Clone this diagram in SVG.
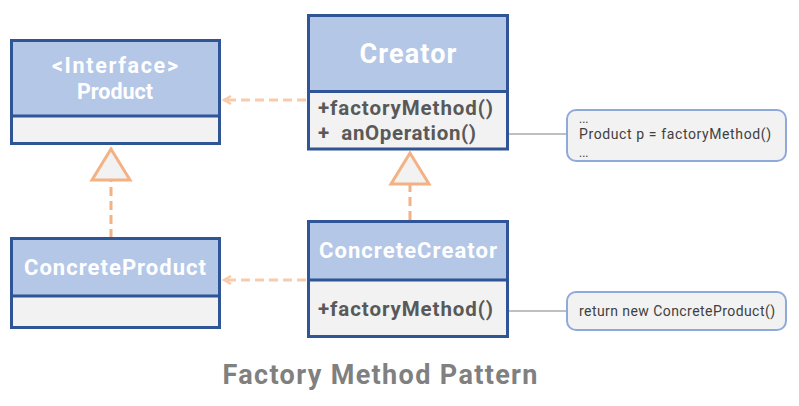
<svg xmlns="http://www.w3.org/2000/svg" width="799" height="406" viewBox="0 0 799 406">
<defs>
<style>
.box{fill:#f2f2f2;stroke:#2f5597;stroke-width:3}
.hdr{fill:#b4c7e7}
.div{stroke:#2f5597;stroke-width:3}
.name{font-family:Roboto,"Noto Sans",sans-serif;font-weight:bold;fill:#ffffff;text-anchor:middle}
.meth{font-family:Roboto,"Noto Sans",sans-serif;font-weight:bold;fill:#595959;font-size:20.5px}
.dash{stroke:#f8cbad;stroke-width:3;stroke-dasharray:9,5;fill:none}
.dash2{stroke:#f4b183;stroke-width:3;stroke-dasharray:9,5;fill:none}
.tri{fill:#f2f2f2;stroke:#f4b183;stroke-width:3}
.note{fill:#f2f2f2;stroke:#8eaadb;stroke-width:2}
.ntext{font-family:Roboto,"Noto Sans",sans-serif;fill:#404040;font-size:14px}
.dots{font-family:Roboto,"Noto Sans",sans-serif;fill:#404040;font-size:12px}
.link{stroke:#bfbfbf;stroke-width:2}
</style>
<marker id="open" markerWidth="12" markerHeight="12" refX="9" refY="6" orient="auto" markerUnits="userSpaceOnUse">
<path d="M2,2 L9,6 L2,10" fill="none" stroke="#f8cbad" stroke-width="2.5"/>
</marker>
</defs>

<g id="connectors">
<line class="dash" x1="306" y1="100" x2="224" y2="100" marker-end="url(#open)"/>
<line class="dash" x1="306" y1="280" x2="224" y2="280" marker-end="url(#open)"/>
<line class="dash2" x1="111" y1="238" x2="111" y2="181"/>
<polygon class="tri" points="111,149 92,180 130,180"/>
<line class="dash2" x1="410" y1="220" x2="410" y2="185"/>
<polygon class="tri" points="410,153 391,184 429,184"/>
<line class="link" x1="481" y1="134" x2="567" y2="134"/>
<line class="link" x1="498" y1="311" x2="567" y2="311"/>
</g>

<g id="product">
<rect class="box" x="11.5" y="40.5" width="208" height="103"/>
<rect class="hdr" x="13" y="42" width="205" height="73"/>
<line class="div" x1="11.5" y1="116" x2="219.5" y2="116"/>
<text class="name" x="115" y="73" font-size="21.5" textLength="126">&lt;Interface&gt;</text>
<text class="name" x="115" y="99" font-size="21.5">Product</text>
</g>

<g id="creator">
<rect class="box" x="308.5" y="15.5" width="199" height="133.5"/>
<rect class="hdr" x="310" y="17" width="196" height="74"/>
<line class="div" x1="308.5" y1="91.5" x2="507.5" y2="91.5"/>
<text class="name" x="408" y="63" font-size="27" textLength="97">Creator</text>
<text class="meth" x="318" y="115" textLength="175">+factoryMethod()</text>
<text class="meth" x="318" y="140" xml:space="preserve" textLength="158">+  anOperation()</text>
</g>

<g id="concreteProduct">
<rect class="box" x="11.5" y="238.5" width="208" height="89"/>
<rect class="hdr" x="13" y="240" width="205" height="55"/>
<line class="div" x1="11.5" y1="296" x2="219.5" y2="296"/>
<text class="name" x="115" y="275" font-size="22" textLength="182">ConcreteProduct</text>
</g>

<g id="concreteCreator">
<rect class="box" x="308.5" y="221.5" width="199" height="115"/>
<rect class="hdr" x="310" y="223" width="196" height="56"/>
<line class="div" x1="308.5" y1="280" x2="507.5" y2="280"/>
<text class="name" x="408" y="258" font-size="22" textLength="178">ConcreteCreator</text>
<text class="meth" x="318" y="316" textLength="175">+factoryMethod()</text>
</g>

<g id="note1">
<rect class="note" x="567" y="110" width="219" height="51" rx="9"/>
<text class="dots" x="579" y="123">...</text>
<text class="ntext" x="579" y="139" textLength="192">Product p = factoryMethod()</text>
<text class="dots" x="579" y="157">...</text>
</g>

<g id="note2">
<rect class="note" x="567" y="292" width="219" height="38" rx="9"/>
<text class="ntext" x="579" y="316" textLength="196">return new ConcreteProduct()</text>
</g>

<text x="380" y="384" font-family="Roboto, Noto Sans, sans-serif" font-weight="bold" font-size="27" fill="#808080" text-anchor="middle" textLength="315">Factory Method Pattern</text>
</svg>
